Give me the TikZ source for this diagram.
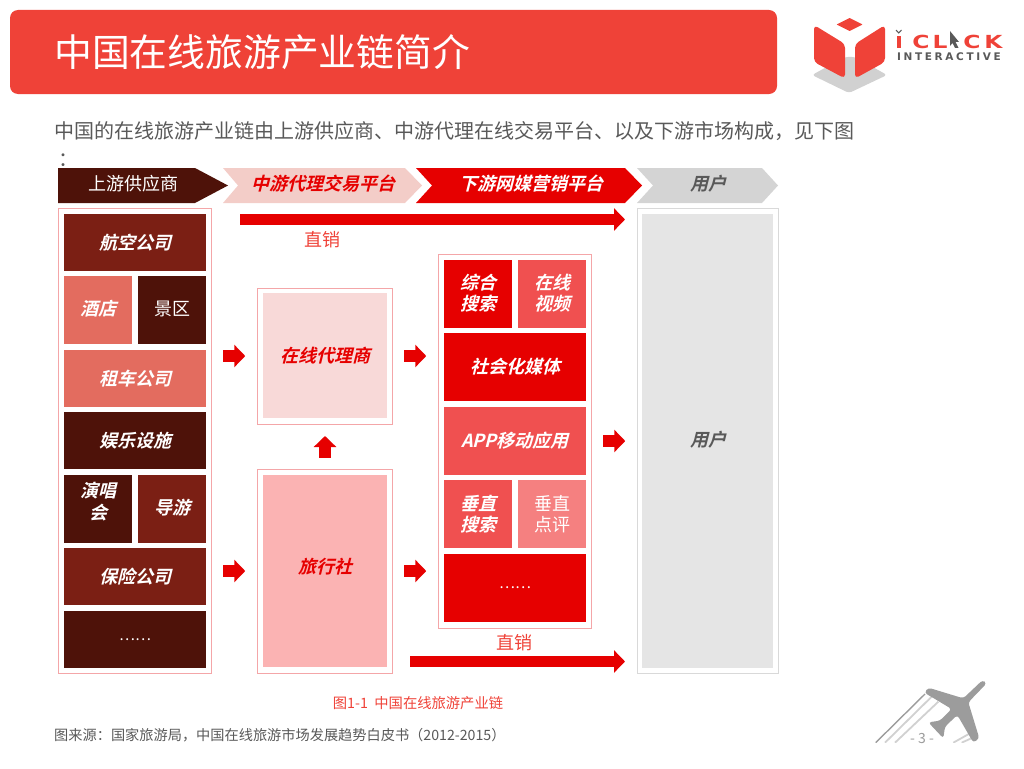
\documentclass[tikz,border=0pt]{standalone}
\usepackage{fontspec}
\setmainfont{Noto Sans CJK SC}
\newfontfamily\cjkbi[FakeSlant=0.25]{Noto Sans CJK SC Bold}
\newfontfamily\logofont{DejaVu Sans Bold}
\newfontfamily\logowide[LetterSpace=25]{DejaVu Sans Bold}
\usetikzlibrary{arrows.meta}

\definecolor{titlered}{HTML}{EF4238}
\definecolor{deepbrown}{HTML}{4E1209}
\definecolor{midbrown}{HTML}{7B1F14}
\definecolor{salmon}{HTML}{E36C5F}
\definecolor{mediared}{HTML}{E60000}
\definecolor{medialight}{HTML}{F05050}
\definecolor{mediapale}{HTML}{F58080}
\definecolor{framepink}{HTML}{F4A6A8}
\definecolor{textgrey}{HTML}{595959}
\definecolor{headpale}{HTML}{F3CDC8}
\definecolor{otafill}{HTML}{F8D9D8}
\definecolor{agencyfill}{HTML}{FBB3B3}
\definecolor{planegrey}{HTML}{9C9C9C}

\tikzset{
	cellwide/.style={minimum width=142pt, minimum height=57pt, inner sep=0pt, text=white, align=center, font=\fontsize{18}{21}\selectfont\cjkbi},
	cellsquare/.style={cellwide, minimum width=68pt, minimum height=68pt},
	cellmedia/.style={cellwide, minimum height=68pt},
	panel/.style={draw=framepink, line width=1pt, inner sep=0pt},
	blockarrow/.style={draw=mediared, line width=11.5pt, -{Triangle[length=11pt,width=22pt]}, shorten <=11pt, shorten >=11.5pt},
	longarrow/.style={draw=mediared, line width=11pt, -{Triangle[length=11pt,width=22pt]}},
	headtext/.style={font=\fontsize{18}{21}\selectfont\cjkbi},
	logoletter/.style={inner sep=0pt, text=titlered, xscale=1.3, font=\fontsize{18}{18}\selectfont\logofont},
}
\newcommand{\tinydots}{{\fontsize{15}{15}\selectfont\rmfamily ……}}

\begin{document}
\begin{tikzpicture}[x=1pt,y=-1pt]
	\useasboundingbox (0,0) rectangle (1024,768);

	% title and intro
	\node (titlebar) [fill=titlered, rounded corners=8pt, minimum width=767pt, minimum height=84pt] at (393.5,52) {};
	\node (titletext) [anchor=west, inner sep=0pt, text=white, font=\fontsize{37.8}{42}\selectfont] at (54,52) {中国在线旅游产业链简介};
	\node (intro) [anchor=west, inner sep=0pt, text=textgrey, font=\fontsize{20}{24}\selectfont] at (54,131) {中国的在线旅游产业链由上游供应商、中游代理在线交易平台、以及下游市场构成，见下图};
	\node (introcolon) [anchor=west, inner sep=0pt, text=textgrey, font=\fontsize{20}{24}\selectfont] at (58,160) {：};

	% logo
	\fill[black!18, rounded corners=3pt] (812,75) -- (845,57) -- (855,57) -- (887,75) -- (849,93) -- cycle;
	\fill[titlered, rounded corners=4pt] (814,25) -- (845,44) -- (845,78.5) -- (814,62) -- cycle;
	\fill[titlered, rounded corners=4pt] (885,25) -- (855,44) -- (855,78.5) -- (885,62) -- cycle;
	\fill[titlered, rounded corners=0.5pt] (849.5,18) -- (862.5,24.5) -- (849.5,31) -- (836.5,24.5) -- cycle;
	\fill[titlered] (896.5,36) rectangle (901,48);
	\draw[textgrey, line width=1pt] (896,30) -- (898.7,33) -- (901.5,30);
	\foreach \nm/\x/\ltr in {logoc/921/C, logol/940/L, logod/972/C, logok/993.5/K} {
		\node (\nm) [logoletter] at (\x,41.5) {\ltr};
	}
	\fill[textgrey] (950,31) -- (959,42) -- (955.5,42) -- (958.5,48) -- (955,48) -- (952.5,43) -- (950,46) -- cycle;
	\node (logotext) [anchor=west, inner sep=0pt, text=textgrey, font=\fontsize{10.5}{12}\selectfont\logowide] at (897,57) {INTERACTIVE};

	% header band
	\fill[deepbrown] (58,168) -- (195,168) -- (228,185.5) -- (195,203) -- (58,203) -- cycle;
	\fill[headpale] (223,168) -- (405,168) -- (422,185.5) -- (405,203) -- (223,203) -- (238,185.5) -- cycle;
	\fill[mediared] (416,168) -- (625,168) -- (642,185.5) -- (625,203) -- (416,203) -- (432,185.5) -- cycle;
	\fill[black!17] (637,168) -- (762,168) -- (778,185.5) -- (762,203) -- (637,203) -- (653,185.5) -- cycle;
	\node (headup) [text=white, font=\fontsize{18}{21}\selectfont] at (133,184) {上游供应商};
	\node (headmid) [headtext, text=mediared] at (323,184) {中游代理交易平台};
	\node (headdown) [headtext, text=white] at (531,184) {下游网媒营销平台};
	\node (headuser) [headtext, text=textgrey] at (708,184) {用户};

	% panels
	\node (supply) [panel, minimum width=153.5pt, minimum height=465pt] at (135,440.5) {};
	\node (ota) [panel, minimum width=135.5pt, minimum height=136pt] at (325,356) {};
	\node (agency) [panel, minimum width=135.5pt, minimum height=204pt] at (325,571) {};
	\node (media) [panel, minimum width=153.5pt, minimum height=374pt] at (515,441) {};
	\node (user) [panel, draw=black!15, minimum width=141.5pt, minimum height=465pt] at (708,440.5) {};
	\node (otain) [fill=otafill, minimum width=124pt, minimum height=125pt, text=mediared, font=\fontsize{18}{21}\selectfont\cjkbi] at (325,355.5) {在线代理商};
	\node (agencyin) [fill=agencyfill, minimum width=124pt, minimum height=192pt] at (325,571) {};
	\node (agencytext) [text=mediared, font=\fontsize{18}{21}\selectfont\cjkbi] at (325,567) {旅行社};
	\node (userin) [fill=black!10, minimum width=131pt, minimum height=454pt] at (707.5,441) {};
	\node (usertext) [text=textgrey, font=\fontsize{18}{21}\selectfont\cjkbi] at (708,440) {用户};

	% cells of the two columns
	\foreach \nm/\x/\y/\sty/\col/\txt in {
		air/135/242.5/cellwide/midbrown/{\raisebox{1pt}{航空公司}},
		hotel/98/310/cellsquare/salmon/{\raisebox{4pt}{酒店}},
		scenic/172/310/cellsquare/deepbrown/{\raisebox{4pt}{\rmfamily 景区}},
		car/135/378.5/cellwide/salmon/{\raisebox{1pt}{租车公司}},
		fun/135/440.5/cellwide/deepbrown/娱乐设施,
		show/98/509/cellsquare/deepbrown/{演唱\\[1pt]会\\[-5pt]\mbox{}},
		guide/172/509/cellsquare/midbrown/{\raisebox{4pt}{导游}},
		insure/135/576.5/cellwide/midbrown/保险公司,
		moreup/135/639.5/cellwide/deepbrown/\tinydots,
		search/478/293.5/cellsquare/mediared/{综合\\搜索},
		video/552/293.5/cellsquare/medialight/{在线\\视频},
		social/515/367/cellmedia/mediared/{\raisebox{1pt}{社会化媒体}},
		app/515/440.5/cellmedia/medialight/{\raisebox{1pt}{APP移动应用}},
		vsearch/478/514/cellsquare/medialight/{垂直\\搜索},
		vreview/552/514/cellsquare/mediapale/{\rmfamily 垂直\\\rmfamily 点评},
		moredown/515/588/cellmedia/mediared/\tinydots%
	} {
		\node (\nm) [\sty, fill=\col] at (\x,\y) {\txt};
	}

	% arrows
	\coordinate (directa) at (240,219.5);
	\coordinate (directb) at (625,219.5);
	\coordinate (directc) at (410,661.5);
	\coordinate (directd) at (625,661.5);
	\draw[longarrow] (directa) -- (directb);
	\draw[longarrow] (directc) -- (directd);
	\draw[blockarrow] (supply.east |- ota) -- (ota.west);
	\draw[blockarrow] (supply.east |- agency) -- (agency.west);
	\draw[blockarrow] (ota.east) -- (media.west |- ota);
	\draw[blockarrow] (agency.east) -- (media.west |- agency);
	\draw[blockarrow] (media.east) -- (user.west |- media.east);
	\draw[blockarrow] (agency.north) -- (ota.south);
	\node (directup) [text=titlered, font=\fontsize{18}{21}\selectfont] at (322,240) {直销};
	\node (directdown) [text=titlered, font=\fontsize{18}{21}\selectfont] at (514,643) {直销};

	% caption and source
	\node (caption) [text=titlered, font=\fontsize{14.3}{16}\selectfont] at (418,703) {图1-1\ \ 中国在线旅游产业链};
	\node (source) [anchor=west, inner sep=0pt, text=textgrey, font=\fontsize{14.2}{16}\selectfont] at (54,735) {图来源：国家旅游局，中国在线旅游市场发展趋势白皮书（2012-2015）};

	% plane
	\begin{scope}[shift={(860,670)}, x=0.3333pt, y=-0.3333pt]
		\clip (0,0) rectangle (492,218);
		\draw[planegrey, line width=1.4pt] (195,72) -- (47,218);
		\foreach \xa/\ya/\xb in {215/80/75, 235/95/105, 330/190/280, 345/200/305} {
			\draw[black!18, line width=1.8pt] (\xa,\ya) -- (\xb,218);
		}
		\fill[planegrey, rounded corners=3pt] (368,30) -- (380,40) -- (325,97) -- (358,205) -- (340,218) -- (292,135) -- (255,170) -- (250,205) -- (205,157) -- (240,152) -- (275,117) -- (193,68) -- (205,53) -- (310,85) -- cycle;
	\end{scope}
	\node (pagenum) [fill=white, inner sep=1pt, text=planegrey, font=\fontsize{14}{16}\selectfont] at (922,738) {- 3 -};
\end{tikzpicture}
\end{document}
